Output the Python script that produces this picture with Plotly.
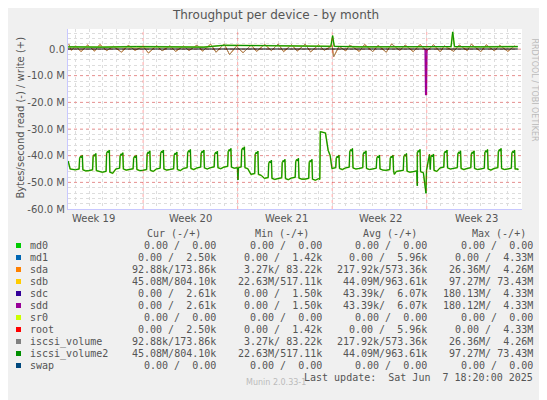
import plotly.graph_objects as go

# Lectura de iscsi_volume2 / sdb (negativo), un pico diario, valores en M
dias = list(range(2, 35))
base_dia = [-45.3, -45.6, -46.2, -45.0, -45.2, -45.5, -45.0, -45.2, -44.8, -44.6,
            -44.5, -44.3, -44.5, -47.0, -48.5, -48.6, -48.4, -48.8, -48.6, -44.8,
            -44.6, -44.8, -45.0, -45.5, -45.8, -46.0, -45.5, -44.6, -44.8, -44.8,
            -45.0, -44.8, -45.0]
pico_dia = [-41.0, -40.4, -39.1, -40.1, -41.0, -39.4, -39.1, -39.8, -38.9, -39.1,
            -39.5, -38.5, -37.9, -39.5, -42.9, -42.6, -42.2, -42.6, -31.0, -41.0,
            -38.5, -39.4, -41.0, -41.0, -40.4, -38.9, -40.6, -39.1, -39.4, -39.4,
            -38.9, -38.5, -39.1]
# eventos sueltos (día, valor)
eventos_t = [1.45, 1.6, 14.02, 14.06, 20.12, 20.5, 20.7, 20.85, 20.98, 25.6, 27.3, 27.94, 28.2, 34.74]
eventos_v = [-42.0, -45.0, -49.1, -44.5, -31.0, -31.5, -38.0, -40.0, -44.8, -47.0, -51.3, -54.1, -39.5, -45.0]

# escritura iscsi_volume2 (positivo)
escr_t = [1.45, 4.0, 6.5, 9.0, 11.5, 13.0, 15.0, 18.0, 20.9, 21.03, 21.15, 23.0, 26.0, 29.8, 29.92, 30.05, 32.0, 34.74]
escr_v = [0.8, 0.7, 0.9, 0.8, 0.7, 1.4, 1.3, 1.1, 1.0, 5.0, 1.0, 0.8, 0.9, 0.9, 6.4, 0.9, 0.8, 0.9]

# iscsi_volume / sda: ruido pequeño alrededor de 0
ruido_t = [1.5, 1.7, 2.0, 2.4, 2.9, 3.4, 3.8, 4.3, 4.8, 5.4, 5.9, 6.4, 7.0, 7.4, 8.0, 8.4,
           9.0, 9.4, 10.0, 10.4, 11.0, 11.4, 12.0, 12.4, 13.0, 13.4, 13.9, 14.4, 15.0, 15.4,
           16.0, 16.5, 17.0, 17.4, 18.0, 18.4, 19.0, 19.4, 20.0, 20.4, 21.0, 21.1, 21.5, 22.0,
           22.3, 23.0, 23.4, 24.0, 24.4, 25.0, 25.4, 26.0, 26.4, 27.0, 27.5, 28.0, 28.5, 29.0,
           29.3, 30.0, 30.4, 31.0, 31.3, 32.0, 32.4, 33.0, 33.4, 34.0, 34.5]
ruido_v = [1.8, -0.5, 1.2, -1.0, 1.5, -0.8, 1.7, -0.6, 1.0, -1.2, 1.4, -0.5, 1.0, -1.5, 1.3, -0.7,
           1.2, -0.9, 1.1, -0.6, 1.5, -0.8, 1.8, -1.2, 1.9, -2.1, 1.0, -1.4, 1.5, -0.9,
           1.7, -0.6, 1.9, -1.0, 1.6, -0.8, 1.8, -1.1, 1.6, -0.5, 1.2, -3.0, 1.0, -0.7,
           1.5, -0.9, 1.7, -1.0, 1.4, -1.2, 1.9, -0.6, 1.5, -1.0, 1.7, -0.8, 1.6, -1.1,
           1.2, -0.9, 1.5, -0.6, 1.8, -1.0, 1.6, -0.7, 1.4, -0.9, 1.2]

# sdc / sdd lectura: pico aislado
sdd_t = [27.88, 27.92, 27.97, 28.01]
sdd_v = [0.0, -17.2, -17.0, 0.0]

semanas = ['Week 19', 'Week 20', 'Week 21', 'Week 22', 'Week 23']
semana_t = [3.3, 10.5, 17.6, 24.6, 31.7]
limites_semana = [7, 14, 21, 28]

nombres = ['md0', 'md1', 'sda', 'sdb', 'sdc', 'sdd', 'sr0', 'root', 'iscsi_volume', 'iscsi_volume2', 'swap']
colores = ['#00CC00', '#0066B3', '#FF8000', '#FFCC00', '#330099', '#990099', '#CCFF00', '#FF0000',
           '#808080', '#008F00', '#00487D']
cur = ['0.00 /  0.00', '0.00 /  2.50k', '92.88k/173.86k', '45.08M/804.10k', '0.00 /  2.61k',
       '0.00 /  2.61k', '0.00 /  0.00', '0.00 /  2.50k', '92.88k/173.86k', '45.08M/804.10k', '0.00 /  0.00']
mn = ['0.00 /  0.00', '0.00 /  1.42k', '3.27k/ 83.22k', '22.63M/517.11k', '0.00 /  1.50k',
      '0.00 /  1.50k', '0.00 /  0.00', '0.00 /  1.42k', '3.27k/ 83.22k', '22.63M/517.11k', '0.00 /  0.00']
avg = ['0.00 /  0.00', '0.00 /  5.96k', '217.92k/573.36k', '44.09M/963.61k', '43.39k/  6.07k',
       '43.39k/  6.07k', '0.00 /  0.00', '0.00 /  5.96k', '217.92k/573.36k', '44.09M/963.61k', '0.00 /  0.00']
mx = ['0.00 /  0.00', '0.00 /  4.33M', '26.36M/  4.26M', '97.27M/ 73.43M', '180.13M/  4.33M',
      '180.12M/  4.33M', '0.00 /  0.00', '0.00 /  4.33M', '26.36M/  4.26M', '97.27M/ 73.43M', '0.00 /  0.00']

# armar la serie de lectura
pts = list(zip(eventos_t, eventos_v))
for d, b, p in zip(dias, base_dia, pico_dia):
    if d == 20:
        pts += [(d + 0.0, b), (d + 0.08, b - 0.3)]
        continue
    pts += [(d - 0.02, b), (d + 0.26, b + 0.3), (d + 0.3, p), (d + 0.38, p + 0.8),
            (d + 0.42, p + 0.2), (d + 0.5, p + 1.2), (d + 0.54, b), (d + 0.75, b - 0.4)]
pts.sort()
lect_t = [a for a, _ in pts]
lect_v = [v for _, v in pts]

fig = go.Figure()
fig.add_trace(go.Scatter(x=ruido_t, y=ruido_v, mode='lines', line=dict(color='#FF8000', width=1)))
fig.add_trace(go.Scatter(x=ruido_t, y=ruido_v, mode='lines', line=dict(color='#A08870', width=1)))
fig.add_trace(go.Scatter(x=sdd_t, y=sdd_v, mode='lines', line=dict(color='#990099', width=1.5)))
fig.add_trace(go.Scatter(x=lect_t, y=lect_v, mode='lines', line=dict(color='#99CC33', width=1.6)))
fig.add_trace(go.Scatter(x=lect_t, y=lect_v, mode='lines', line=dict(color='#008F00', width=1)))
fig.add_trace(go.Scatter(x=escr_t, y=escr_v, mode='lines', line=dict(color='#99CC33', width=1.6)))
fig.add_trace(go.Scatter(x=escr_t, y=escr_v, mode='lines', line=dict(color='#008F00', width=1)))

for t in limites_semana:
    fig.add_shape(type='line', x0=t, x1=t, y0=-60, y1=7.5, line=dict(color='rgba(255,0,0,0.35)', width=1, dash='dot'))
for v in [-50, -40, -30, -20, -10, 0]:
    fig.add_shape(type='line', x0=1.44, x1=35.05, y0=v, y1=v, line=dict(color='rgba(255,0,0,0.35)', width=1, dash='dot'))
fig.add_shape(type='line', x0=1.44, x1=34.74, y0=0, y1=0, line=dict(color='black', width=1))

anot = []
for t, s in zip(semana_t, semanas):
    anot.append(dict(x=t, y=-60, yshift=-9, text=s, showarrow=False, yanchor='middle',
                     font=dict(size=10, color='#555')))
mono = 'DejaVu Sans Mono'
gris = '#555555'
tabla = []
for texto, xr in [('Cur (-/+)', 201), ('Min (-/+)', 309), ('Avg (-/+)', 417), ('Max (-/+)', 526)]:
    tabla.append(dict(x=xr, y=233.5, text=texto))
for i, n in enumerate(nombres):
    y = 245.5 + 12 * i
    fig.add_shape(type='rect', xref='paper', yref='paper', x0=(14 - 66) / 454, x1=(19 - 66) / 454,
                  y0=(209 - y - 2.5) / 180, y1=(209 - y + 2.5) / 180, fillcolor=colores[i], line_width=0)
    tabla.append(dict(x=26, y=y, text=n, xanchor='left'))
    for col, xr in [(cur, 216), (mn, 322), (avg, 427), (mx, 533)]:
        tabla.append(dict(x=xr, y=y, text=col[i].replace(' ', '&nbsp;')))
tabla.append(dict(x=533, y=377.5, text='Last update:&nbsp;&nbsp;Sat Jun&nbsp;&nbsp;7 18:20:00 2025'))
for a in tabla:
    px, py = a.pop('x'), a.pop('y')
    a.update(xref='paper', yref='paper', x=(px - 66) / 454, y=(209 - py) / 180,
             showarrow=False, yanchor='middle', xanchor=a.get('xanchor', 'right'),
             font=dict(family=mono, size=10, color=gris))
    anot.append(a)
anot.append(dict(xref='paper', yref='paper', x=(274 - 66) / 454, y=(209 - 389) / 180, text='Munin 2.0.33-1',
                 showarrow=False, font=dict(family='DejaVu Sans', size=8, color='#BBBBBB')))
anot.append(dict(xref='paper', yref='paper', x=(539 - 66) / 454, y=(209 - 90) / 180, text='RRDTOOL / TOBI OETIKER',
                 showarrow=False, textangle=90, font=dict(family='DejaVu Sans', size=8, color='#BBBBBB')))
anot.append(dict(xref='paper', yref='paper', x=(10 - 66) / 454, y=(209 - 118) / 180, text='Bytes/second read (-) / write (+)',
                 showarrow=False, textangle=-90, font=dict(family='DejaVu Sans', size=10, color='#555')))

# la página tiene 8px de margen en body: compensar en los márgenes
fig.update_layout(
    width=547, height=400, showlegend=False,
    paper_bgcolor='#F0F0F0', plot_bgcolor='white',
    margin=dict(l=60, r=33, t=21, b=199, autoexpand=False),
    title=dict(text='Throughput per device - by month', x=(274 - 6) / 547, y=1 - 7 / 400, xanchor='center', yanchor='middle',
               font=dict(family='DejaVu Sans', size=12, color='#555')),
    annotations=anot,
    font=dict(family='DejaVu Sans'),
)
fig.update_xaxes(range=[1.44, 35.05], dtick=1, tick0=0, showticklabels=False, ticks='',
                 gridcolor='#DDDDDD', griddash='dot', zeroline=False,
                 showline=True, linecolor='#C8C8FF', linewidth=1)
fig.update_yaxes(range=[-60, 7.5], tickvals=[0, -10, -20, -30, -40, -50, -60],
                 ticktext=['0.0', '-10.0 M', '-20.0 M', '-30.0 M', '-40.0 M', '-50.0 M', '-60.0 M'],
                 tickfont=dict(size=10, color='#555'), ticks='', ticklen=0,
                 minor=dict(dtick=2, showgrid=True, gridcolor='#DDDDDD', griddash='dot'),
                 gridcolor='#DDDDDD', griddash='dot', zeroline=False,
                 showline=True, linecolor='#C8C8FF', linewidth=1)

fig.write_html("out.html")
